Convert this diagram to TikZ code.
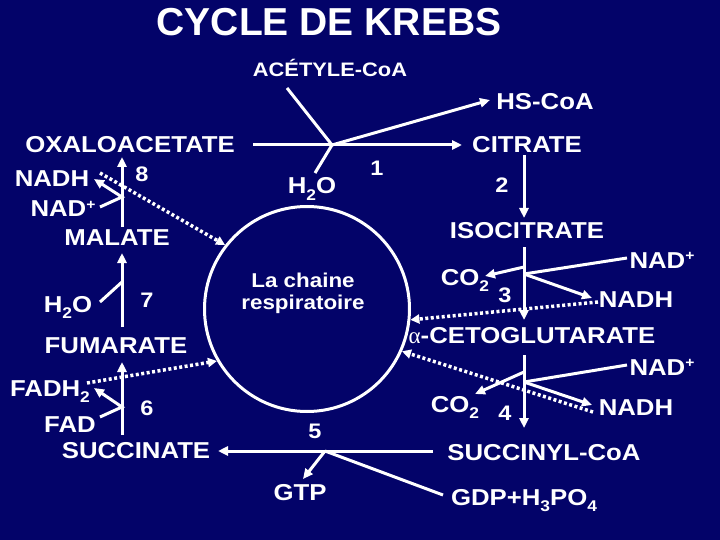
\documentclass[tikz,border=0pt]{standalone}
\usepackage{fontspec}
\newfontfamily\labfont{Liberation Sans}[FakeStretch=1.12]
\newfontfamily\titlefont{Liberation Sans}
\newfontfamily\greekfont{Liberation Serif}
\usetikzlibrary{arrows.meta}
\definecolor{bgnavy}{RGB}{3,3,105}
\newcommand\subx[1]{\raisebox{-0.27em}{\fontsize{15.5}{16}\selectfont #1}}
\newcommand\supx[1]{\raisebox{0.33em}{\fontsize{14}{14}\selectfont #1}}
\tikzset{
  lab/.style={text=white, inner sep=0pt, anchor=base, font=\labfont\bfseries\fontsize{23}{25}\selectfont},
  num/.style={lab, font=\labfont\bfseries\fontsize{21}{23}\selectfont},
  small/.style={lab, font=\labfont\bfseries\fontsize{19.5}{21}\selectfont},
  rx/.style={draw=white, line width=3pt},
  rxa/.style={rx, -{Triangle[length=10pt,width=9pt]}},
  dotarrow/.style={draw=white, line width=3.5pt, dash pattern=on 3pt off 2.5pt, -{Triangle[length=9pt,width=9pt]}}
}
\begin{document}
\begin{tikzpicture}[x=1pt,y=-1pt]
\fill[bgnavy] (0,0) rectangle (720,540);
\useasboundingbox (0,0) rectangle (720,540);

% title
\node[lab, font=\titlefont\bfseries\fontsize{39}{41}\selectfont] (title) at (329,36) {CYCLE DE KREBS};

% circle
\node[circle, draw=white, line width=3pt, minimum size=205pt, inner sep=0pt] (chain) at (307,309) {};
\node[lab, font=\labfont\bfseries\fontsize{20}{22}\selectfont] (lc1) at (303,287) {La chaine};
\node[lab, font=\labfont\bfseries\fontsize{20}{22}\selectfont] (lc2) at (303,309) {respiratoire};

% labels
\node[small] (acetyl) at (330,77) {ACÉTYLE-CoA};
\node[lab] (hscoa) at (545,110) {HS-CoA};
\node[lab] (citrate) at (527,153) {CITRATE};
\node[num] (n1) at (377,176) {1};
\node[lab] (h2oa) at (312,194) {H\subx{2}O};
\node[lab] (oxalo) at (130,153) {OXALOACETATE};
\node[num] (n8) at (142,182) {8};
\node[lab] (nadh8) at (52,187) {NADH};
\node[lab] (nad8) at (63,217) {NAD\supx{+}};
\node[lab] (malate) at (117,245) {MALATE};
\node[lab] (h2ob) at (68,312) {H\subx{2}O};
\node[num] (n7) at (147,307) {7};
\node[lab] (fumarate) at (116,353) {FUMARATE};
\node[lab] (fadh2) at (50,396) {FADH\subx{2}};
\node[num] (n6) at (147,415) {6};
\node[lab] (fad) at (70,432) {FAD};
\node[lab] (succinate) at (136,458) {SUCCINATE};
\node[num] (n5) at (315,438) {5};
\node[lab] (gtp) at (300,500) {GTP};
\node[lab] (succoa) at (544,460) {SUCCINYL-CoA};
\node[lab] (gdp) at (524,505) {GDP+H\subx{3}PO\subx{4}};
\node[num] (n2) at (502,193) {2};
\node[lab] (isocit) at (527,238) {ISOCITRATE};
\node[lab] (nad3) at (662,268) {NAD\supx{+}};
\node[lab] (co2a) at (465,285) {CO\subx{2}};
\node[num] (n3) at (505,302) {3};
\node[lab] (nadh3) at (636,307) {NADH};
\node[lab] (akg) at (532,343) {{\greekfont\mdseries α}-CETOGLUTARATE};
\node[lab] (nad4) at (662,375) {NAD\supx{+}};
\node[lab] (co2b) at (455,412) {CO\subx{2}};
\node[num] (n4) at (505,420) {4};
\node[lab] (nadh4) at (636,415) {NADH};

% reaction 1
\coordinate (r1s) at (253,145);
\coordinate (r1e) at (462,145);
\coordinate (j1) at (332,145);
\coordinate (acs) at (287,88);
\coordinate (h2s) at (315,173);
\coordinate (hse) at (490,100);
\draw[rxa] (r1s) -- (r1e);
\draw[rx] (acs) -- (j1);
\draw[rx] (h2s) -- (j1);
\draw[rxa] (j1) -- (hse);

% reaction 2
\coordinate (r2s) at (524,155);
\coordinate (r2e) at (524,218);
\draw[rxa] (r2s) -- (r2e);

% reaction 3
\coordinate (r3s) at (524,247);
\coordinate (r3e) at (524,320);
\coordinate (j3) at (524,274);
\coordinate (j3c) at (524,267);
\coordinate (nad3s) at (627,258);
\coordinate (nadh3e) at (592,298);
\coordinate (co2ae) at (485,276);
\draw[rxa] (r3s) -- (r3e);
\draw[rx] (nad3s) -- (j3);
\draw[rxa] (j3) -- (nadh3e);
\draw[rxa] (j3c) -- (co2ae);

% reaction 4
\coordinate (r4s) at (524,355);
\coordinate (r4e) at (524,428);
\coordinate (j4) at (524,382);
\coordinate (j4c) at (524,372);
\coordinate (nad4s) at (627,365);
\coordinate (nadh4e) at (592,405);
\coordinate (co2be) at (475,394);
\draw[rxa] (r4s) -- (r4e);
\draw[rx] (nad4s) -- (j4);
\draw[rxa] (j4) -- (nadh4e);
\draw[rxa] (j4c) -- (co2be);

% reaction 5
\coordinate (r5s) at (433,451);
\coordinate (r5e) at (218,451);
\coordinate (j5) at (325,451);
\coordinate (gtpe) at (303,479);
\coordinate (gdps) at (443,495);
\draw[rxa] (r5s) -- (r5e);
\draw[rxa] (j5) -- (gtpe);
\draw[rx] (gdps) -- (j5);

% reaction 6
\coordinate (r6s) at (122,435);
\coordinate (r6e) at (122,362);
\coordinate (fads) at (100,417);
\coordinate (j6) at (122,407);
\coordinate (fadh2e) at (94,388);
\draw[rxa] (r6s) -- (r6e);
\draw[rxa] (fads) -- (j6) -- (fadh2e);

% reaction 7
\coordinate (r7s) at (122,327);
\coordinate (r7e) at (122,253);
\coordinate (h2bs) at (100,302);
\coordinate (j7) at (122,282);
\draw[rxa] (r7s) -- (r7e);
\draw[rx] (h2bs) -- (j7);

% reaction 8
\coordinate (r8s) at (122,227);
\coordinate (r8e) at (122,157);
\coordinate (nad8s) at (100,207);
\coordinate (j8) at (122,197);
\coordinate (nadh8e) at (94,179);
\draw[rxa] (r8s) -- (r8e);
\draw[rxa] (nad8s) -- (j8) -- (nadh8e);

% dotted arrows to respiratory chain
\coordinate (d8) at (100,173);
\coordinate (d6) at (87,383);
\coordinate (d3) at (598,302);
\coordinate (d4) at (593,412);
\draw[dotarrow] (d8) -- (chain.142);
\draw[dotarrow] (d6) -- (chain.210);
\draw[dotarrow] (d3) -- (chain.354);
\draw[dotarrow] (d4) -- (chain.336);
\end{tikzpicture}
\end{document}
